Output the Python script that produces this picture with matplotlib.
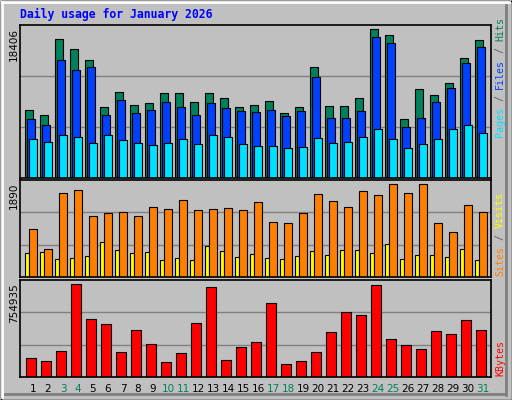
import matplotlib
matplotlib.use("Agg")
import matplotlib.pyplot as plt
from matplotlib.patches import Rectangle
import numpy as np

W, H = 512, 400

days = list(range(1, 32))
weekend = [3, 4, 10, 11, 17, 18, 24, 25, 31]

hits = [8230, 7630, 16710, 15500, 14170, 8600, 10290, 8840, 9080, 10170, 10170,
        9200, 10170, 9570, 8600, 8840, 9320, 7870, 8600, 13320, 8720, 8720, 9570,
        17920, 17190, 7145, 10660, 9930, 11380, 14410, 16590]
files = [7145, 6420, 14170, 12960, 13320, 7630, 9440, 7870, 8230, 9200, 8600,
         7630, 9080, 8480, 8110, 7990, 8230, 7510, 8110, 12110, 7270, 7270, 8110,
         16950, 16230, 6180, 7270, 9200, 10780, 13800, 15740]
pages = [4725, 4360, 5210, 4960, 4240, 5210, 4600, 4240, 4000, 4240, 4725,
         4120, 5210, 4960, 4120, 3880, 3880, 3630, 3750, 4840, 4240, 4360, 4960,
         5930, 4725, 3630, 4120, 4725, 5930, 6420, 5450]
sites = [472, 492, 354, 374, 413, 689, 532, 472, 492, 335, 374, 335, 610, 512,
         394, 453, 374, 354, 413, 512, 433, 532, 532, 472, 650, 354, 433, 433,
         394, 551, 335]
visits = [945, 551, 1634, 1693, 1181, 1240, 1260, 1181, 1358, 1319, 1496, 1299,
          1319, 1339, 1299, 1457, 1063, 1043, 1240, 1614, 1477, 1358, 1673, 1595,
          1811, 1634, 1811, 1043, 886, 1398, 1260]
kbytes = [145200, 121400, 200600, 723300, 454000, 414400, 192700, 366900, 256000,
          113500, 184800, 422300, 699500, 129300, 232300, 271900, 572800, 97700,
          121400, 192700, 351100, 509500, 485700, 715300, 295600, 248100, 216400,
          359000, 335200, 446100, 366900]

max_hits = 18406
max_visits = 1890
max_kbytes = 754935

BG = "#C0C0C0"
C_HITS, C_FILES, C_PAGES = "#00805C", "#0040FF", "#00E0FF"
C_SITES, C_VISITS, C_KB = "#FFFF00", "#FF8000", "#FF0000"
GREEN = "#00805C"

fig = plt.figure(figsize=(W / 100, H / 100), dpi=100, facecolor=BG)


def fx(x):
    return x / W


def fy(y):
    return 1 - y / H


# 3D-ish border
bg = fig.add_axes([0, 0, 1, 1], zorder=-10)
bg.set_xlim(0, W)
bg.set_ylim(H, 0)
bg.axis("off")
bg.add_patch(Rectangle((0.5, 0.5), W - 1, H - 1, fill=False, ec="black", lw=1))
bg.plot([2, W - 3], [2, 2], color="white", lw=2)
bg.plot([2, 2], [2, H - 3], color="white", lw=2)
bg.plot([W - 6, W - 6], [5, H - 5], color="#808080", lw=2)
bg.plot([5, W - 6], [H - 6, H - 6], color="#808080", lw=2)

PL, PR = 20, 491
x = np.array(days)
base = 5.3 + 15 * (x - 1)


def panel(top, bottom, vmax):
    ax = fig.add_axes([fx(PL), fy(bottom), fx(PR - PL), (bottom - top) / H])
    ax.set_facecolor(BG)
    ax.set_xlim(0, PR - PL)
    ax.set_ylim(0, vmax)
    for g in (vmax / 3, 2 * vmax / 3):
        ax.axhline(g, color="#808080", lw=1, zorder=0)
    ax.set_xticks([])
    ax.set_yticks([])
    for s in ax.spines.values():
        s.set_color("black")
        s.set_linewidth(1.2)
    return ax


kw = dict(align="edge", edgecolor="black", linewidth=0.8)

ax1 = panel(25, 178, max_hits)
ax1.bar(base, hits, width=7.3, color=C_HITS, **kw)
ax1.bar(base + 1.7, files, width=7.6, color=C_FILES, **kw)
ax1.bar(base + 4, pages, width=7.3, color=C_PAGES, **kw)

ax2 = panel(180, 277, max_visits)
ax2.bar(base, sites, width=4, color=C_SITES, **kw)
ax2.bar(base + 4, visits, width=7.3, color=C_VISITS, **kw)

ax3 = panel(280, 377, max_kbytes)
ax3.bar(base + 1, kbytes, width=10, color=C_KB, **kw)

fig.text(fx(20), fy(14), "Daily usage for January 2026", color="#0000FF",
         family="DejaVu Sans Mono", weight="bold", fontsize=8.3, va="center")

for lbl, y in ((str(max_hits), 28), (str(max_visits), 183), (str(max_kbytes), 283)):
    fig.text(fx(14), fy(y), lbl, rotation=90, ha="center", va="top",
             fontsize=7.5, color="black")

for d, b in zip(days, base):
    fig.text(fx(PL + b + 7.7), fy(389), str(d), ha="center", va="center",
             fontsize=7.5, color=GREEN if d in weekend else "black")


def vlabel(pieces, ybottom, size=7.2):
    step = 0.602 * size * 100 / 72
    y = ybottom
    for txt, col in pieces:
        fig.text(fx(500), fy(y), txt, rotation=90, ha="center", va="bottom",
                 family="DejaVu Sans Mono", fontsize=size, color=col)
        y -= step * len(txt)


vlabel([("Pages", C_PAGES), (" / ", "#606060"), ("Files", C_FILES),
        (" / ", "#606060"), ("Hits", C_HITS)], 137)
vlabel([("Sites", C_VISITS), (" / ", "#606060"), ("Visits", C_SITES)], 276)
vlabel([("KBytes", C_KB)], 376)

fig.savefig("out.png", dpi=100, facecolor=BG)
